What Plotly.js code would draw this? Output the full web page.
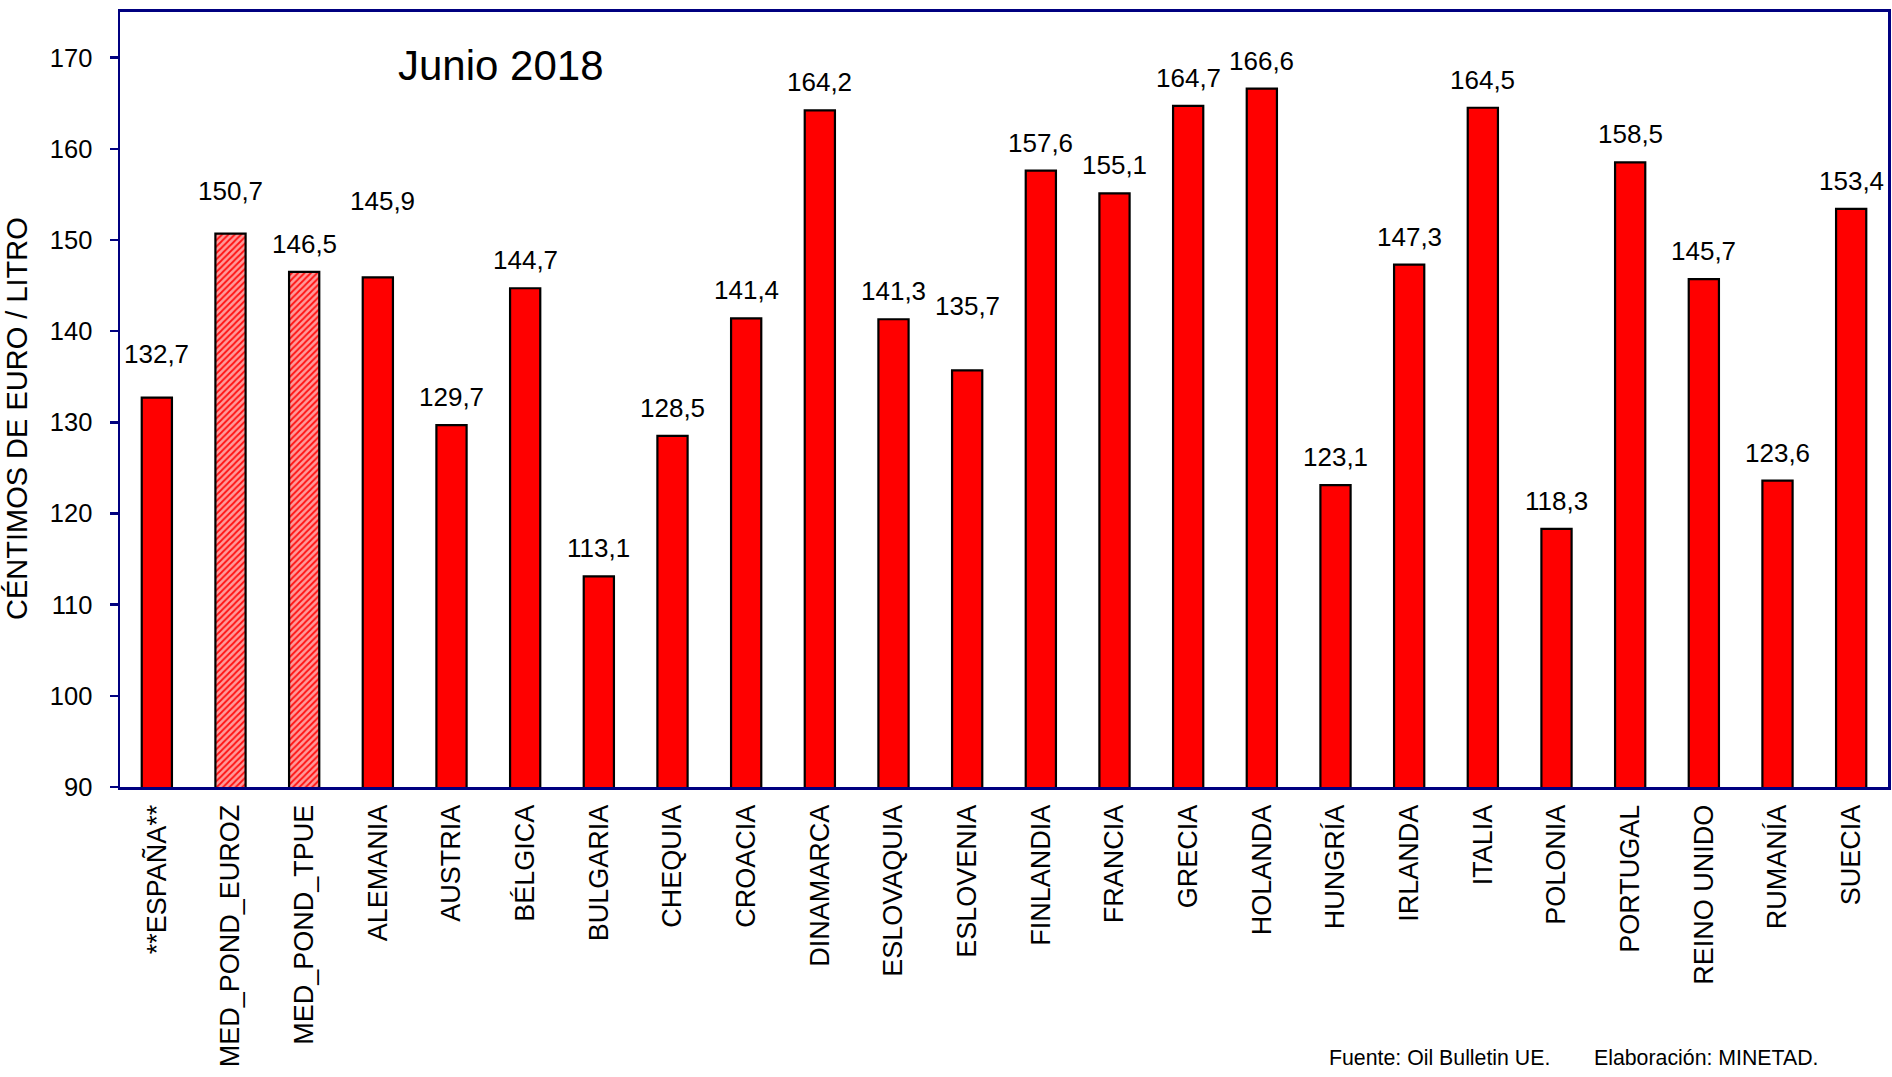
<!DOCTYPE html>
<html>
<head>
<meta charset="utf-8">
<script src="https://cdn.plot.ly/plotly-3.0.1.min.js"></script>
<style>
  html, body { margin: 0; padding: 0; background: #ffffff; }
  #chart { width: 1892px; height: 1077px; }
</style>
</head>
<body>
<div id="chart"></div>
<script>
// ---- Data ----
const categories = [
  "**ESPAÑA**", "MED_POND_EUROZ", "MED_POND_TPUE", "ALEMANIA", "AUSTRIA", "BÉLGICA",
  "BULGARIA", "CHEQUIA", "CROACIA", "DINAMARCA", "ESLOVAQUIA", "ESLOVENIA",
  "FINLANDIA", "FRANCIA", "GRECIA", "HOLANDA", "HUNGRÍA", "IRLANDA",
  "ITALIA", "POLONIA", "PORTUGAL", "REINO UNIDO", "RUMANÍA", "SUECIA"
];
const prices = [
  132.7, 150.7, 146.5, 145.9, 129.7, 144.7,
  113.1, 128.5, 141.4, 164.2, 141.3, 135.7,
  157.6, 155.1, 164.7, 166.6, 123.1, 147.3,
  164.5, 118.3, 158.5, 145.7, 123.6, 153.4
];
const averageCategories = ["MED_POND_EUROZ", "MED_POND_TPUE"];
const yTicks = [90, 100, 110, 120, 130, 140, 150, 160, 170];
const titleText = "Junio 2018";
const yTitleText = "CÉNTIMOS DE EURO / LITRO";
const sourceText = "Fuente: Oil Bulletin UE.";
const authorText = "Elaboración: MINETAD.";

// ---- Styling ----
const FONT = "Liberation Sans, Arial, sans-serif";
const NAVY = "#000080";
const isAvg = categories.map(c => averageCategories.includes(c));
const patternShapes = isAvg.map(a => a ? "/" : "");

// extra label lift (px) for labels placed higher in the original
const labelLift = { "**ESPAÑA**": 16, "MED_POND_EUROZ": 15, "ALEMANIA": 48, "ESLOVENIA": 36 };
const labelShiftX = { "ALEMANIA": 5 };

const trace = {
  type: "bar",
  x: categories,
  y: prices,
  width: 0.41,
  marker: {
    color: "#ff0000",
    line: { color: "#000000", width: 2.2 },
    pattern: {
      shape: patternShapes,
      fgcolor: "#ff1010",
      bgcolor: "#ff9a9a",
      size: 4.5,
      solidity: 0.4,
      fillmode: "replace"
    }
  },
  hoverinfo: "x+y"
};

const annotations = categories.map((c, i) => ({
  x: c, y: prices[i], xref: "x", yref: "y",
  text: prices[i].toFixed(1).replace(".", ","),
  showarrow: false,
  xanchor: "center", yanchor: "middle",
  yshift: 28 + (labelLift[c] || 0),
  xshift: labelShiftX[c] || 0,
  font: { family: FONT, size: 26, color: "#000000" }
}));

annotations.push({
  text: titleText, showarrow: false,
  xref: "paper", yref: "paper", x: 0, y: 1,
  xanchor: "center", yanchor: "middle",
  xshift: 501 - 120, yshift: -(65 - 12),
  font: { family: FONT, size: 42, color: "#000000" }
});
annotations.push({
  text: yTitleText, showarrow: false, textangle: -90,
  xref: "paper", yref: "paper", x: 0, y: 0,
  xanchor: "center", yanchor: "middle",
  xshift: 17 - 120, yshift: 787 - 419,
  font: { family: FONT, size: 29, color: "#000000" }
});
annotations.push({
  text: sourceText, showarrow: false,
  xref: "paper", yref: "paper", x: 0, y: 0,
  xanchor: "left", yanchor: "middle",
  xshift: 1327 - 120, yshift: -(1058 - 787),
  font: { family: FONT, size: 21.3, color: "#000000" }
});
annotations.push({
  text: authorText, showarrow: false,
  xref: "paper", yref: "paper", x: 0, y: 0,
  xanchor: "left", yanchor: "middle",
  xshift: 1592 - 120, yshift: -(1058 - 787),
  font: { family: FONT, size: 21.3, color: "#000000" }
});

const layout = {
  width: 1892, height: 1077,
  margin: { l: 120, r: 4, t: 12, b: 290 },
  paper_bgcolor: "#ffffff",
  plot_bgcolor: "#ffffff",
  showlegend: false,
  font: { family: FONT, color: "#000000" },
  xaxis: {
    type: "category",
    showline: true, linecolor: NAVY, linewidth: 3, mirror: true,
    showgrid: false, zeroline: false,
    ticks: "", tickangle: -90,
    ticklabelstandoff: 4,
    tickfont: { family: FONT, size: 27, color: "#000000" }
  },
  yaxis: {
    range: [90, 175],
    tickvals: yTicks,
    ticktext: yTicks.map(String),
    showline: true, linecolor: NAVY, linewidth: 2.5, mirror: true,
    showgrid: false, zeroline: false,
    ticks: "outside", ticklen: 8, tickwidth: 2.5, tickcolor: NAVY,
    ticklabelstandoff: 12,
    tickfont: { family: FONT, size: 25.5, color: "#000000" }
  },
  annotations: annotations
};

Plotly.newPlot("chart", [trace], layout, { displayModeBar: false, staticPlot: true });
</script>
</body>
</html>
